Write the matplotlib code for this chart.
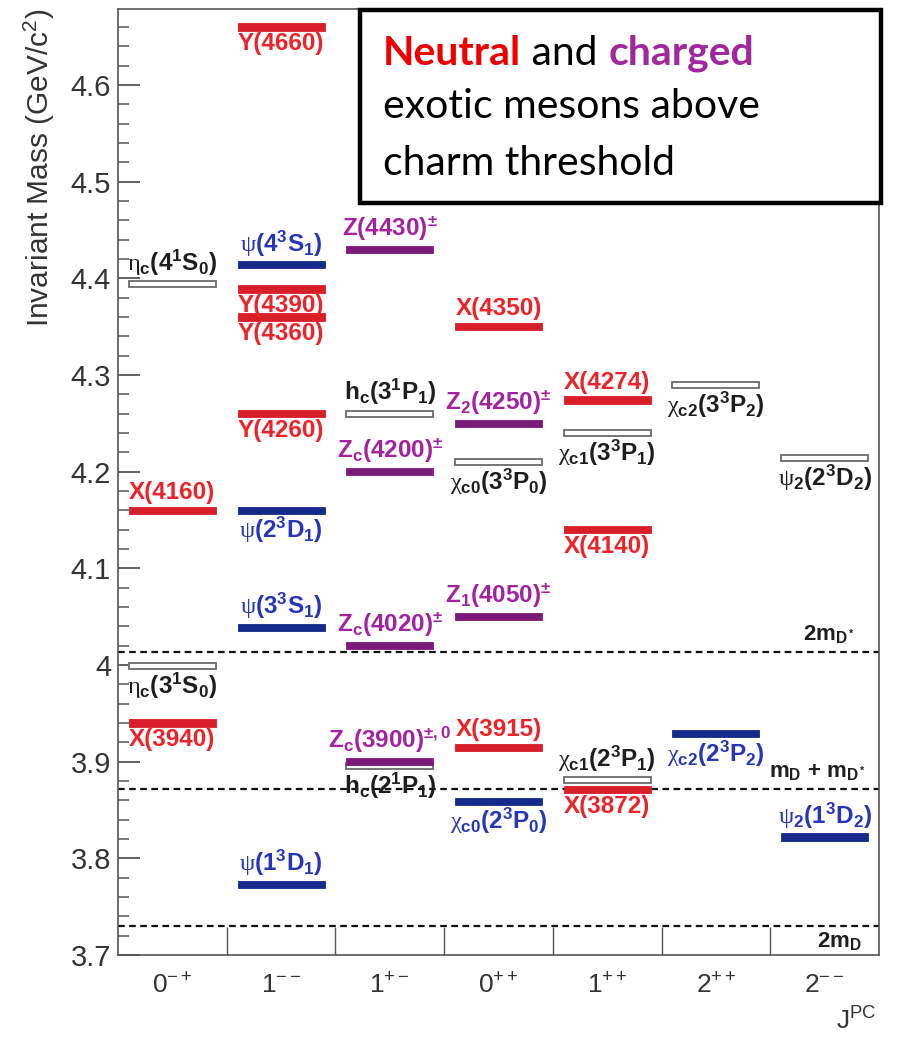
import numpy as np
import matplotlib.pyplot as plt
from matplotlib.patches import Rectangle
from matplotlib.ticker import MultipleLocator, FuncFormatter

plt.rcParams['font.family'] = ['Liberation Sans', 'DejaVu Sans']
plt.rcParams['mathtext.fontset'] = 'custom'
plt.rcParams['mathtext.rm'] = 'Liberation Sans:bold'
plt.rcParams['mathtext.bf'] = 'Liberation Sans:bold'
plt.rcParams['mathtext.it'] = 'Liberation Sans:bold:italic'
plt.rcParams['mathtext.sf'] = 'Liberation Serif'
plt.rcParams['mathtext.default'] = 'rm'

# J^PC columns
jpc = [r'$\mathregular{0^{-+}}$', r'$\mathregular{1^{--}}$', r'$\mathregular{1^{+-}}$',
       r'$\mathregular{0^{++}}$', r'$\mathregular{1^{++}}$', r'$\mathregular{2^{++}}$',
       r'$\mathregular{2^{--}}$']

# states: label, column, mass (GeV), type
names = [
    r'$\mathsf{\eta}_c(4^1S_0)$', 'X(4160)', r'$\mathsf{\eta}_c(3^1S_0)$', 'X(3940)',
    'Y(4660)', r'$\mathsf{\psi}(4^3S_1)$', 'Y(4390)', 'Y(4360)', 'Y(4260)',
    r'$\mathsf{\psi}(2^3D_1)$', r'$\mathsf{\psi}(3^3S_1)$', r'$\mathsf{\psi}(1^3D_1)$',
    r'$Z(4430)^{\pm}$', r'$h_c(3^1P_1)$', r'$Z_c(4200)^{\pm}$', r'$Z_c(4020)^{\pm}$',
    r'$h_c(2^1P_1)$', r'$Z_c(3900)^{\pm,0}$',
    'X(4350)', r'$Z_2(4250)^{\pm}$', r'$\mathsf{\chi}_{c0}(3^3P_0)$', r'$Z_1(4050)^{\pm}$',
    'X(3915)', r'$\mathsf{\chi}_{c0}(2^3P_0)$',
    'X(4274)', r'$\mathsf{\chi}_{c1}(3^3P_1)$', 'X(4140)', r'$\mathsf{\chi}_{c1}(2^3P_1)$',
    'X(3872)',
    r'$\mathsf{\chi}_{c2}(3^3P_2)$', r'$\mathsf{\chi}_{c2}(2^3P_2)$',
    r'$\mathsf{\psi}_2(2^3D_2)$', r'$\mathsf{\psi}_2(1^3D_2)$',
]
cols = [0, 0, 0, 0,
        1, 1, 1, 1, 1, 1, 1, 1,
        2, 2, 2, 2, 2, 2,
        3, 3, 3, 3, 3, 3,
        4, 4, 4, 4, 4,
        5, 5,
        6, 6]
masses = [4.394, 4.160, 3.999, 3.940,
          4.660, 4.414, 4.389, 4.360, 4.260, 4.160, 4.039, 3.773,
          4.430, 4.260, 4.200, 4.020, 3.896, 3.900,
          4.350, 4.250, 4.210, 4.050, 3.915, 3.859,
          4.274, 4.240, 4.140, 3.881, 3.871,
          4.290, 3.929,
          4.214, 3.822]
kinds = ['pred', 'neutral', 'pred', 'neutral',
         'neutral', 'conv', 'neutral', 'neutral', 'neutral', 'conv', 'conv', 'conv',
         'charged', 'pred', 'charged', 'charged', 'pred', 'charged',
         'neutral', 'charged', 'pred', 'charged', 'neutral', 'conv',
         'neutral', 'pred', 'neutral', 'pred', 'neutral',
         'pred', 'conv',
         'pred', 'conv']
# label placement: above (1) or below (-1) the level
side = [1, 1, -1, -1,
        -1, 1, -1, -1, -1, -1, 1, 1,
        1, 1, 1, 1, -1, 1,
        1, 1, -1, 1, 1, -1,
        1, -1, -1, 1, -1,
        -1, -1,
        -1, 1]

thresholds = [3.7297, 3.8718, 4.0137]
thr_labels = [r'$2m_D$', r'$m_D$ + $m_{D^*}$', r'$2m_{D^*}$']

bar_col = {'neutral': '#d81e28', 'conv': '#162a8c', 'charged': '#7c1a7a', 'pred': 'white'}
txt_col = {'neutral': '#ee2229', 'conv': '#2536b8', 'charged': '#a3229f', 'pred': '#1e1e1e'}

fig = plt.figure(figsize=(8.97, 10.38), dpi=100)
ax = fig.add_axes([118 / 897, 83 / 1038, (879 - 118) / 897, (1029 - 83) / 1038])

cols_a = np.array(cols)
mass_a = np.array(masses)
kind_a = np.array(kinds)

# predicted (open) levels underneath the observed ones
m = kind_a == 'pred'
ax.barh(mass_a[m], 0.8, left=cols_a[m] + 0.1, height=0.0062,
        color='white', edgecolor='#6a6a6a', linewidth=1.3, zorder=2)
for k in ['neutral', 'conv', 'charged']:
    m = kind_a == k
    ax.barh(mass_a[m], 0.8, left=cols_a[m] + 0.1, height=0.0075,
            color=bar_col[k], edgecolor=bar_col[k], linewidth=0.6, zorder=3)

for name, c, y, k, s in zip(names, cols, masses, kinds, side):
    ax.annotate(name, xy=(c + 0.5, y), xytext=(0, 4.5 if s > 0 else -3.5),
                textcoords='offset points', ha='center',
                va='bottom' if s > 0 else 'top', fontweight='bold',
                color=txt_col[k], fontsize=17.5, zorder=5)

for t in thresholds:
    ax.axhline(t, color='#111111', lw=1.6, ls=(0, (3, 2)), zorder=1)
thr_kw = dict(textcoords='offset points', ha='right', fontsize=16, color='#1e1e1e',
              fontweight='bold')
ax.annotate(thr_labels[0], xy=(6.84, thresholds[0]), xytext=(0, -3), va='top', **thr_kw)
ax.annotate(thr_labels[1], xy=(6.88, thresholds[1]), xytext=(0, 4), va='bottom', **thr_kw)
ax.annotate(thr_labels[2], xy=(6.78, thresholds[2]), xytext=(0, 4), va='bottom', **thr_kw)

ax.set_xlim(0, 7)
ax.set_ylim(3.7, 4.6786)

ax.set_xticks(np.arange(1, 7))
ax.set_xticklabels([])
ax.set_xticks(np.arange(len(jpc)) + 0.5, minor=True)
ax.set_xticklabels(jpc, minor=True)
ax.tick_params(axis='x', which='major', direction='in', length=20, width=1.0, color='#555555')
ax.tick_params(axis='x', which='minor', length=0, labelsize=19, pad=13, labelcolor='#333333')

ax.yaxis.set_major_locator(MultipleLocator(0.1))
ax.yaxis.set_minor_locator(MultipleLocator(0.02))
ax.yaxis.set_major_formatter(FuncFormatter(lambda v, p: f'{v:g}'))
ax.tick_params(axis='y', which='major', direction='in', length=16, width=1.3,
               color='#555555', labelsize=21, labelcolor='#333333', pad=5)
ax.tick_params(axis='y', which='minor', direction='in', length=8, width=1.1, color='#555555')

for sp in ax.spines.values():
    sp.set_color('#555555')
    sp.set_linewidth(1.2)

ax.set_ylabel(r'Invariant Mass (GeV/c$\mathregular{^2}$)', fontsize=21.5, color='#333333',
              loc='top', labelpad=10)
fig.text(876 / 897, 1 - 1030 / 1038, r'J$\mathregular{^{PC}}$', fontsize=19,
         color='#333333', ha='right', va='baseline')

# title box
fig.add_artist(Rectangle((360 / 897, 1 - 203 / 1038), (881 - 360) / 897, (203 - 10) / 1038,
                         transform=fig.transFigure, facecolor='white', edgecolor='black',
                         linewidth=3.2, zorder=10))
box_kw = dict(family='Lato', fontsize=29.5, zorder=11, va='baseline')
x0 = 383 / 897
renderer = fig.canvas.get_renderer()
x = x0
for word, color, weight in [('Neutral', '#ee0000', 'bold'), (' and ', 'black', 'normal'),
                            ('charged', '#a0289c', 'bold')]:
    t = fig.text(x, 1 - 65 / 1038, word, color=color, weight=weight, **box_kw)
    x = fig.transFigure.inverted().transform(
        (t.get_window_extent(renderer).x1, 0))[0]
fig.text(x0, 1 - 118 / 1038, 'exotic mesons above', color='black', **box_kw)
fig.text(x0, 1 - 175 / 1038, 'charm threshold', color='black', **box_kw)

plt.savefig('out.png', dpi=100)
